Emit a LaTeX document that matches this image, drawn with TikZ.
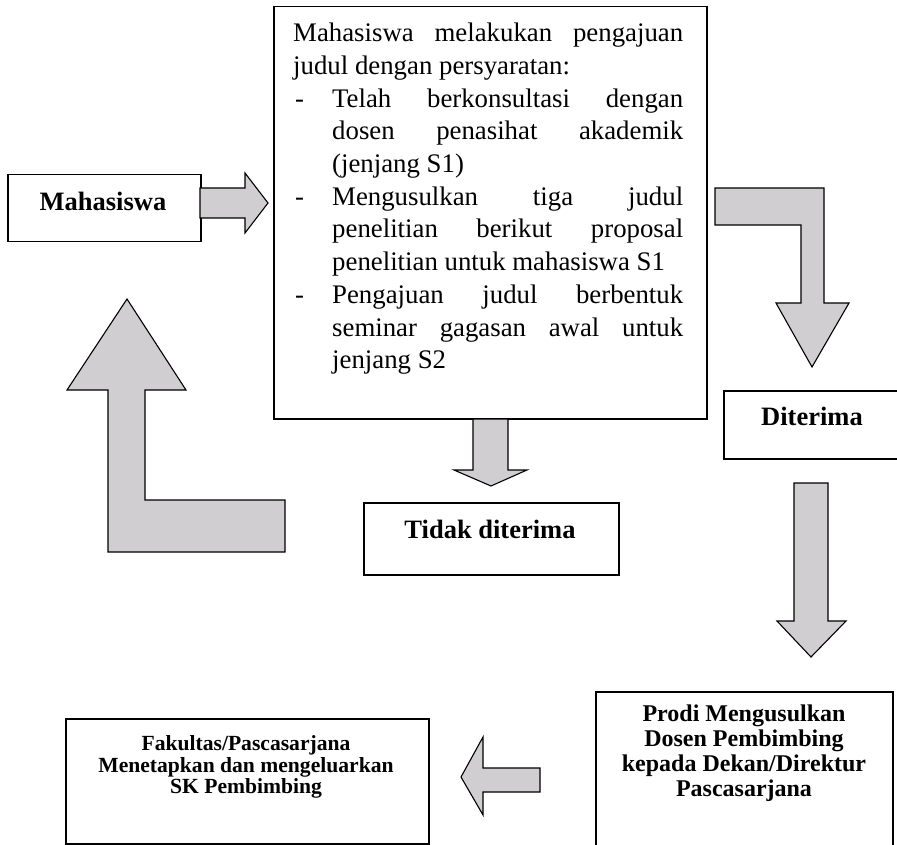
\documentclass[tikz,border=0pt]{standalone}
\usepackage{fontspec}
\setmainfont{Liberation Serif}
\definecolor{arrowgray}{RGB}{208,206,209}
\newcommand{\reqitem}{\hangindent=39pt\hangafter=1\noindent\makebox[39pt][l]{\hspace{2pt}-}}
\begin{document}
\begin{tikzpicture}[x=1pt,y=-1pt,
  box/.style={draw, line width=1.5pt, inner sep=0pt, anchor=north west},
  boldlbl/.style={inner sep=0pt, font=\fontsize{26.5pt}{30pt}\selectfont\bfseries},
  blockarrow/.style={draw, line width=1.1pt, fill=arrowgray, line join=miter}]
\useasboundingbox (0,0) rectangle (897,845);
\clip (0,0) rectangle (897,845);

% boxes
\node[box, minimum width=193pt, minimum height=67pt] (mhs) at (7,174) {};
\node[box, minimum width=433pt, minimum height=412pt] (req) at (273,6) {};
\node[box, minimum width=180pt, minimum height=68pt] (acc) at (723,390) {};
\node[box, minimum width=255pt, minimum height=72pt] (rej) at (363,502) {};
\node[box, minimum width=297pt, minimum height=180pt] (prodi) at (595,691) {};
\node[box, minimum width=363pt, minimum height=125pt] (fak) at (65,718) {};

% labels
\node[boldlbl] (mhs-t) at (103,201) {Mahasiswa};
\node[boldlbl] (acc-t) at (812,416) {Diterima};
\node[boldlbl] (rej-t) at (490,529) {Tidak diterima};
\node[inner sep=0pt, align=center, font=\fontsize{24pt}{25pt}\selectfont\bfseries] (prodi-t) at (744,753)
  {Prodi Mengusulkan\\Dosen Pembimbing\\kepada Dekan/Direktur\\Pascasarjana};
\node[inner sep=0pt, align=center, font=\fontsize{21.6pt}{21.7pt}\selectfont\bfseries] (fak-t) at (246,767)
  {Fakultas/Pascasarjana\\Menetapkan dan mengeluarkan\\SK Pembimbing};

% requirements text
\node[anchor=north west, inner sep=0pt] (req-t) at (293,23) {\parbox[t]{390pt}{%
  \fontsize{26.8pt}{32.7pt}\selectfont
  \tolerance=10000 \hbadness=10000 \hyphenpenalty=10000 \parindent=0pt \parskip=0pt
  Mahasiswa melakukan pengajuan\linebreak judul dengan persyaratan:\par
  \reqitem Telah berkonsultasi dengan\linebreak dosen penasihat akademik\linebreak (jenjang S1)\par
  \reqitem Mengusulkan tiga judul\linebreak penelitian berikut proposal\linebreak penelitian untuk mahasiswa S1\par
  \reqitem Pengajuan judul berbentuk\linebreak seminar gagasan awal untuk\linebreak jenjang S2\par}};

% block arrows
\draw[blockarrow] (200,188) -- (245,188) -- (245,173) -- (268,203) -- (245,233) -- (245,218) -- (200,218) -- cycle;
\draw[blockarrow] (715,188) -- (824,188) -- (824,303) -- (849,303) -- (812,367) -- (776,303) -- (801,303) -- (801,225) -- (715,225) -- cycle;
\draw[blockarrow] (794,483) -- (828,483) -- (828,621) -- (846,621) -- (811,657) -- (777,621) -- (794,621) -- cycle;
\draw[blockarrow] (473,419) -- (508,419) -- (508,470) -- (527,470) -- (491,486) -- (454,470) -- (473,470) -- cycle;
\draw[blockarrow] (540,768) -- (483,768) -- (483,737) -- (461,777) -- (483,815) -- (483,792) -- (540,792) -- cycle;
\draw[blockarrow] (285,500) -- (285,552) -- (108,552) -- (108,390) -- (67,390) -- (127,299) -- (186,390) -- (145,390) -- (145,500) -- cycle;
\end{tikzpicture}
\end{document}
